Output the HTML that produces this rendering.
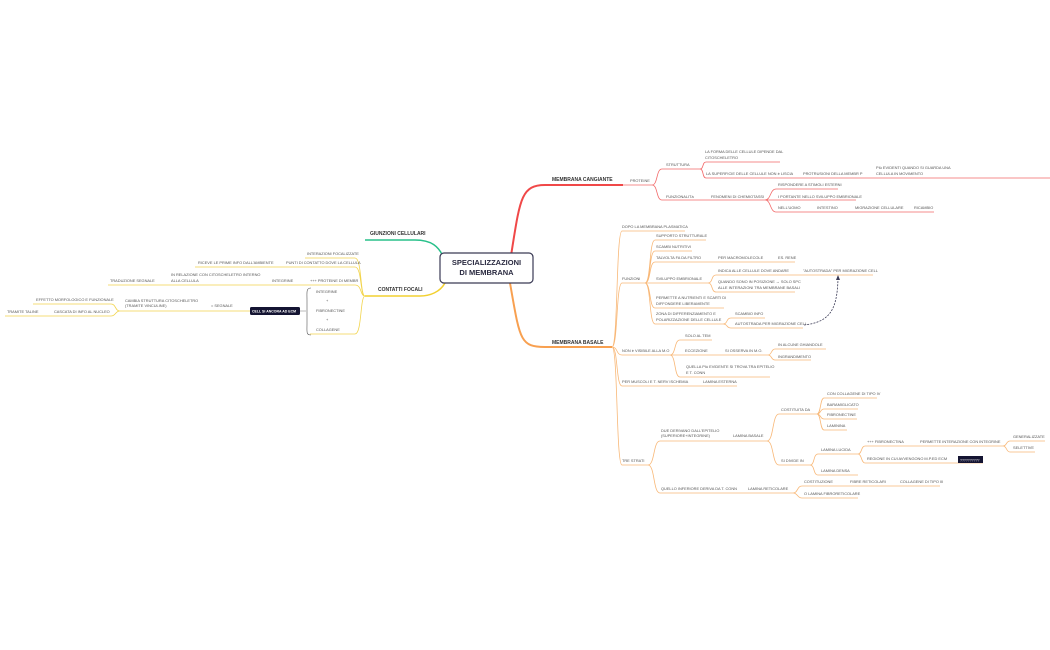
<!DOCTYPE html>
<html><head><meta charset="utf-8"><style>
html,body{margin:0;padding:0;background:#fff;}
svg{display:block}
text{font-family:"Liberation Sans",sans-serif;font-size:3.9px;fill:#555;}
.b{font-weight:bold;font-size:5px;fill:#333}
.r{stroke:#f26a6a;fill:none;stroke-width:0.8}
.o{stroke:#f8b878;fill:none;stroke-width:0.8}
.y{stroke:#f2d44c;fill:none;stroke-width:0.8}
</style></head><body>
<svg width="1050" height="650" viewBox="0 0 1050 650" xmlns="http://www.w3.org/2000/svg">
<!-- main connectors -->
<path d="M510,262 C520,200 520,185 545,185 L623,185" stroke="#f04848" stroke-width="2" fill="none"/>
<path d="M510,283 C520,340 520,347 545,347 L612,347" stroke="#f8a050" stroke-width="2" fill="none"/>
<path d="M445,262 C440,245 430,240 415,240 L365,240" stroke="#28c08a" stroke-width="1.5" fill="none"/>
<path d="M445,283 C440,292 430,296 420,296 L365,296" stroke="#f2d030" stroke-width="1.5" fill="none"/>
<rect x="440" y="253" width="93" height="30" rx="4" fill="#fff" stroke="#3a3a55" stroke-width="1.2"/>
<text class="b" x="486.5" y="265" text-anchor="middle" style="font-size:7.5px;fill:#2a2a40">SPECIALIZZAZIONI</text>
<text class="b" x="486.5" y="275" text-anchor="middle" style="font-size:7.5px;fill:#2a2a40">DI MEMBRANA</text>

<!-- RED -->
<text class="b" x="552" y="181">MEMBRANA CANGIANTE</text>
<path class="r" d="M623,185 L652,185"/><text x="630" y="182">PROTEINE</text>
<path class="r" d="M652,185 C658,185 656,169 662,169 L700,169 M652,185 C658,185 656,200 662,200 L765,200"/>
<text x="666" y="166">STRUTTURA</text><text x="666" y="198">FUNZIONALITà</text>
<path class="r" d="M700,169 C704,169 702,162 706,162 L780,162 M700,169 C704,169 702,178 706,178 L1050,178"/>
<text x="705" y="153">LA FORMA DELLE CELLULE DIPENDE DAL</text><text x="705" y="159">CITOSCHELETRO</text>
<text x="706" y="175">LA SUPERFICIE DELLE CELLULE NON è LISCIA</text>
<text x="803" y="175">PROTRUSIONI DELLA MEMBR P</text>
<text x="876" y="169">PIù EVIDENTI QUANDO SI GUARDA UNA</text><text x="876" y="175">CELLULA IN MOVIMENTO</text>
<text x="711" y="198">FENOMENI DI CHEMIOTASSI</text>
<path class="r" d="M765,200 C771,200 770,189 776,189 L838,189 M765,200 L856,200 M765,200 C771,200 770,212 776,212 L934,212"/>
<text x="778" y="186">RISPONDERE A STIMOLI ESTERNI</text>
<text x="778" y="198">I PORTANTE NELLO SVILUPPO EMBRIONALE</text>
<text x="778" y="209">NELL'UOMO</text><text x="817" y="209">INTESTINO</text><text x="855" y="209">MIGRAZIONE CELLULARE</text><text x="914" y="209">RICAMBIO</text>

<!-- ORANGE -->
<text class="b" x="552" y="344">MEMBRANA BASALE</text>
<path class="o" d="M612,347 C618,347 616,231 622,231 L685,231 M612,347 C618,347 616,283 622,283 L645,283 M612,347 C618,347 616,355 622,355 L670,355 M612,347 C618,347 616,386 622,386 L737,386 M612,347 C618,347 616,465 622,465 L648,465"/>
<text x="622" y="228">DOPO LA MEMBRANA PLASMATICA</text>
<text x="622" y="280">FUNZIONI</text>
<path class="o" d="M645,283 C651,283 649,240 655,240 L706,240 M645,283 C651,283 649,251 655,251 L692,251 M645,283 C651,283 649,262 655,262 L795,262 M645,283 L708,283 M645,283 C651,283 649,308 655,308 L724,308 M645,283 C651,283 649,324 655,324 L723,324"/>
<text x="656" y="237">SUPPORTO STRUTTURALE</text><text x="656" y="248">SCAMBI NUTRITIVI</text>
<text x="656" y="259">TALVOLTA FA DA FILTRO</text><text x="718" y="259">PER MACROMOLECOLE</text><text x="778" y="259">ES. RENE</text>
<text x="656" y="280">SVILUPPO EMBRIONALE</text>
<path class="o" d="M708,283 C713,283 711,275 716,275 L873,275 M708,283 C713,283 711,292 716,292 L795,292"/>
<text x="718" y="272">INDICA ALLE CELLULE DOVE ANDARE</text><text x="803" y="272">"AUTOSTRADA" PER MIGRAZIONE CELL</text>
<text x="718" y="283">QUANDO SONO IN POSIZIONE → SOLO SPC</text><text x="718" y="289">ALLE INTERAZIONI TRA MEMBRANE BASALI</text>
<text x="656" y="299">PERMETTE A NUTRIENTI E SCARTI DI</text><text x="656" y="305">DIFFONDERE LIBERAMENTE</text>
<text x="656" y="315">ZONA DI DIFFERENZIAMENTO E</text><text x="656" y="321">POLARIZZAZIONE DELLE CELLULE</text>
<path class="o" d="M723,324 C728,324 726,318 731,318 L765,318 M723,324 C728,324 726,328 731,328 L803,328"/>
<text x="735" y="315">SCAMBIO INFO</text><text x="735" y="325">AUTOSTRADA PER MIGRAZIONE CELL</text>
<path d="M804,325 C830,322 837,310 838,279" stroke="#3a3a55" stroke-width="0.8" stroke-dasharray="2,1.2" fill="none"/>
<path d="M836,280 L838,275 L840,280 Z" fill="#3a3a55"/>
<text x="622" y="352">NON è VISIBILE ALLA M.O</text>
<path class="o" d="M670,355 C676,355 674,340 680,340 L712,340 M670,355 L768,355 M670,355 C676,355 674,377 680,377 L770,377"/>
<text x="685" y="337">SOLO AL TEM</text><text x="685" y="352">ECCEZIONE</text><text x="725" y="352">SI OSSERVA IN M.O.</text>
<path class="o" d="M768,355 C772,355 771,349 775,349 L826,349 M768,355 C772,355 771,360 775,360 L811,360"/>
<text x="778" y="346">IN ALCUNE GHIANDOLE</text><text x="778" y="358">INGRANDIMENTO</text>
<text x="686" y="368">QUELLA PIù EVIDENTE SI TROVA TRA EPITELIO</text><text x="686" y="374">E T. CONN</text>
<text x="622" y="383">PER MUSCOLI E T. NERV ISCHEMIA</text><text x="703" y="383">LAMINA ESTERNA</text>
<text x="622" y="462">TRE STRATI</text>
<path class="o" d="M648,465 C655,465 653,441 660,441 L767,441 M648,465 C655,465 653,493 660,493 L793,493"/>
<text x="661" y="432">DUE DERIVANO DALL'EPITELIO</text><text x="661" y="437">(SUPERIORE+INTEGRINE)</text>
<text x="733" y="437">LAMINA BASALE</text>
<path class="o" d="M767,441 C774,441 772,414 779,414 L817,414 M767,441 C774,441 772,465 779,465 L810,465"/>
<text x="781" y="411">COSTITUITA DA</text><text x="781" y="462">SI DIVIDE IN</text>
<path class="o" d="M817,414 C821,414 820,398 824,398 L877,398 M817,414 C821,414 820,409 824,409 L858,409 M817,414 C821,414 820,419 824,419 L857,419 M817,414 C821,414 820,430 824,430 L847,430"/>
<text x="827" y="395">CON COLLAGENE DI TIPO IV</text><text x="827" y="406">BARAMIGLICATO</text><text x="827" y="416">FIBRONECTINE</text><text x="827" y="427">LAMININA</text>
<path class="o" d="M810,465 C815,465 813,454 818,454 L858,454 M810,465 C815,465 813,475 818,475 L858,475"/>
<text x="821" y="451">LAMINA LUCIDA</text><text x="821" y="472">LAMINA DENSA</text>
<path class="o" d="M858,454 C862,454 861,446 865,446 L1003,446 M858,454 C862,454 861,463 865,463 L983,463"/>
<text x="867" y="443">+++ FIBRONECTINA</text><text x="920" y="443">PERMETTE INTERAZIONE CON INTEGRINE</text>
<text x="867" y="460">REGIONE IN CUI AVVENGONO M.P.ED ECM</text>
<rect x="958" y="456" width="25" height="7" fill="#141432"/><text x="960" y="461.5" style="fill:#fff;font-size:3.5px">??????????</text>
<path class="o" d="M1003,446 C1007,446 1006,441 1010,441 L1045,441 M1003,446 C1007,446 1006,452 1010,452 L1035,452"/>
<text x="1013" y="438">GENERALIZZATE</text><text x="1013" y="449">SELETTIVE</text>
<text x="661" y="490">QUELLO INFERIORE DERIVA DA T. CONN</text><text x="748" y="490">LAMINA RETICOLARE</text>
<path class="o" d="M793,493 C798,493 797,486 802,486 L940,486 M793,493 C798,493 797,498 802,498 L858,498"/>
<text x="804" y="483">COSTITUZIONE</text><text x="850" y="483">FIBRE RETICOLARI</text><text x="900" y="483">COLLAGENE DI TIPO III</text>
<text x="804" y="495">O LAMINA FIBRORETICOLARE</text>

<!-- GREEN -->
<text class="b" x="370" y="235">GIUNZIONI CELLULARI</text>

<!-- YELLOW -->
<text class="b" x="378" y="291">CONTATTI FOCALI</text>
<path class="y" d="M365,296 C360,296 362,258 355,258 L305,258 M365,296 C360,296 362,267 355,267 L195,267 M365,296 C360,296 362,285 355,285 L108,285 M365,296 C360,296 362,334 355,334 L310,334"/>
<text x="307" y="255">INTERAZIONI FOCALIZZATE</text>
<text x="198" y="264">RICEVE LE PRIME INFO DALL'AMBIENTE</text><text x="286" y="264">PUNTI DI CONTATTO DOVE LA CELLULA</text>
<text x="110" y="282">TRADUZIONE SEGNALE</text><text x="171" y="276">IN RELAZIONE CON CITOSCHELETRO INTERNO</text><text x="171" y="282">ALLA CELLULA</text>
<text x="272" y="282">INTEGRINE</text><text x="310" y="282">+++ PROTEINE DI MEMBR</text>
<path d="M311,288 C306,288 307,292 307,300 L307,324 C307,332 306,335 311,335" stroke="#555" stroke-width="0.6" fill="none"/>
<text x="316" y="293">INTEGRINE</text><text x="326" y="302">+</text><text x="316" y="312">FIBRONECTINE</text><text x="326" y="321">+</text><text x="316" y="331">COLLAGENE</text>
<path d="M306,311 L300,311" stroke="#777" stroke-width="0.5"/>
<rect x="250" y="307" width="50" height="8" rx="1.5" fill="#141432"/><text x="252" y="312.5" style="fill:#fff;font-size:3.5px;font-weight:bold">CELL SI ANCORA AD ECM</text>
<path class="y" d="M250,311 L120,311 C115,311 116,304 111,304 L33,304 M120,311 C115,311 116,316 111,316 L5,316"/>
<text x="211" y="307">= SEGNALE</text>
<text x="125" y="302">CAMBIA STRUTTURA CITOSCHELETRO</text><text x="125" y="307">(TRAMITE VINCULINE)</text>
<text x="36" y="301">EFFETTO MORFOLOGICO E FUNZIONALE</text>
<text x="54" y="313">CASCATA DI INFO AL NUCLEO</text><text x="7" y="313">TRAMITE TALINE</text>
</svg>
</body></html>
